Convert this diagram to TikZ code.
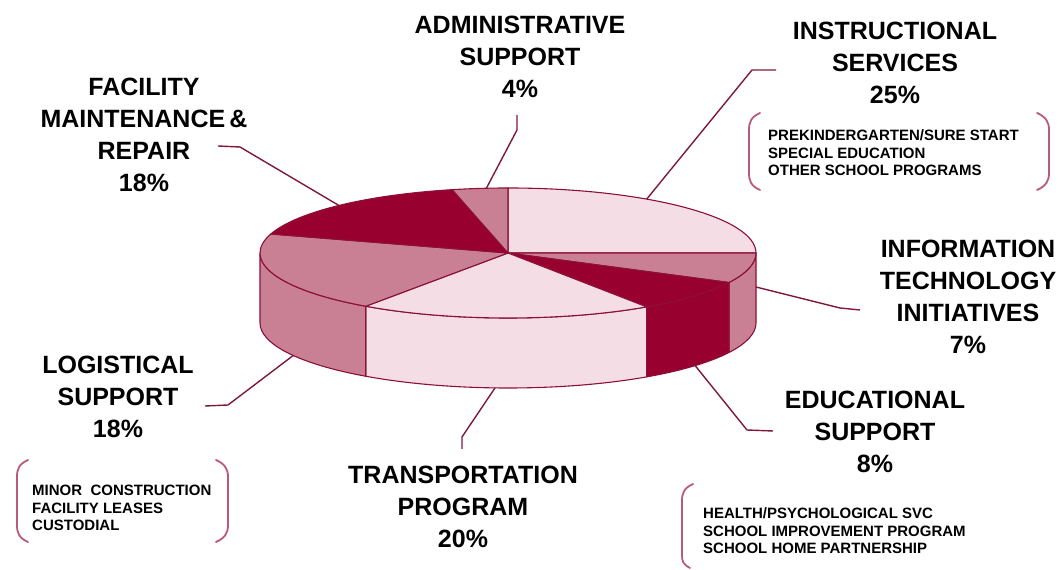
\documentclass[tikz,border=0pt]{standalone}
\usepackage{fontspec}
\setmainfont{Liberation Sans}
\usetikzlibrary{calc}
\definecolor{pdark}{RGB}{152,0,48}
\definecolor{pmed}{RGB}{202,128,148}
\definecolor{plight}{RGB}{244,221,228}
\definecolor{pline}{RGB}{140,16,56}
\definecolor{lcol}{RGB}{125,25,60}
\definecolor{bcol}{RGB}{185,90,120}
\begin{document}
\begin{tikzpicture}[x=1pt,y=1pt,
  slice/.style={draw=pline, line width=1.1pt, line join=round},
  leader/.style={draw=lcol, line width=1.4pt, line join=round},
  big/.style={font=\bfseries\fontsize{25}{32}\selectfont, align=center, text=black, inner sep=0pt},
  small/.style={font=\bfseries\fontsize{15}{17.5}\selectfont, align=left, inner sep=0pt, anchor=west},
  brk/.style={draw=bcol, line width=1.8pt, line cap=round}]
\useasboundingbox (0,0) rectangle (1060,570);
\coordinate (C) at (508,317);
\coordinate (D) at (508,247);
% side faces
\foreach \a/\b/\c in {0/-27/pmed, -27/-56/pdark, -56/-125/plight, -125/-180/pmed}{
  \filldraw[slice, fill=\c] ($(C)+(\a:248 and 65)$) arc[start angle=\a, end angle=\b, x radius=248, y radius=65]
    -- ($(D)+(\b:248 and 65)$) arc[start angle=\b, end angle=\a, x radius=248, y radius=65] -- cycle;
}
% top slices
\foreach \a/\b/\c in {90/0/plight, 0/-27/pmed, -27/-56/pdark, -56/-125/plight, -125/-197/pmed, -197/-257/pdark, -257/-270/pmed}{
  \filldraw[slice, fill=\c] (C) -- ($(C)+(\a:248 and 65)$) arc[start angle=\a, end angle=\b, x radius=248, y radius=65] -- cycle;
}
% labels
\node[big] (fac) at (144,435) {FACILITY\\MAINTENANCE\,\&\\REPAIR\\18\%};
\node[big] (adm) at (520,513) {ADMINISTRATIVE\\SUPPORT\\4\%};
\node[big] (ins) at (895,507) {INSTRUCTIONAL\\SERVICES\\25\%};
\node[big] (it) at (968,273) {INFORMATION\\TECHNOLOGY\\INITIATIVES\\7\%};
\node[big] (edu) at (875,138) {EDUCATIONAL\\SUPPORT\\8\%};
\node[big] (tra) at (463,63) {TRANSPORTATION\\PROGRAM\\20\%};
\node[big] (log) at (118,173) {LOGISTICAL\\SUPPORT\\18\%};
\node[small] (insd) at (768,417) {PREKINDERGARTEN/SURE START\\SPECIAL EDUCATION\\OTHER SCHOOL PROGRAMS};
\node[small] (edud) at (703,39) {HEALTH/PSYCHOLOGICAL SVC\\SCHOOL IMPROVEMENT PROGRAM\\SCHOOL HOME PARTNERSHIP};
\node[small] (logd) at (32,62) {MINOR~~CONSTRUCTION\\FACILITY LEASES\\CUSTODIAL};
% brackets
\draw[brk] (760,457) .. controls (751,453) and (749,448) .. (749,440) -- (749,397) .. controls (749,389) and (751,384) .. (760,380);
\draw[brk] (1037,457) .. controls (1046,453) and (1049,448) .. (1049,440) -- (1049,397) .. controls (1049,389) and (1046,384) .. (1037,380);
\draw[brk] (693,86) .. controls (684,82) and (682,77) .. (682,69) -- (682,14) .. controls (682,8) and (684,5) .. (690,2);
\draw[brk] (28,110) .. controls (19,106) and (17,101) .. (17,93) -- (17,45) .. controls (17,37) and (19,32) .. (28,28);
\draw[brk] (216,110) .. controls (225,106) and (228,101) .. (228,93) -- (228,45) .. controls (228,37) and (225,32) .. (216,28);
% leader coordinates
\coordinate (facA) at ($(C)+(133:248 and 65)$);
\coordinate (facB) at (240,423);
\coordinate (facC) at (218,424);
\coordinate (admA) at ($(C)+(95:248 and 65)$);
\coordinate (admB) at (517,440);
\coordinate (admC) at (517,455);
\coordinate (insA) at ($(C)+(56:248 and 65)$);
\coordinate (insB) at (752,500);
\coordinate (insC) at (776,500);
\coordinate (itA) at ($(C)+(248,-34)$);
\coordinate (itB) at (840,262);
\coordinate (itC) at (860,260);
\coordinate (eduA) at ($(D)+(-41:248 and 65)$);
\coordinate (eduB) at (747,140);
\coordinate (eduC) at (773,139);
\coordinate (traA) at ($(D)+(-93:248 and 65)$);
\coordinate (traB) at (462,133);
\coordinate (traC) at (462,121);
\coordinate (logA) at ($(D)+(-150:248 and 65)$);
\coordinate (logB) at (228,165);
\coordinate (logC) at (205,164);
\draw[leader] (facA) -- (facB) -- (facC);
\draw[leader] (admA) -- (admB) -- (admC);
\draw[leader] (insA) -- (insB) -- (insC);
\draw[leader] (itA) -- (itB) -- (itC);
\draw[leader] (eduA) -- (eduB) -- (eduC);
\draw[leader] (traA) -- (traB) -- (traC);
\draw[leader] (logA) -- (logB) -- (logC);
\end{tikzpicture}
\end{document}
